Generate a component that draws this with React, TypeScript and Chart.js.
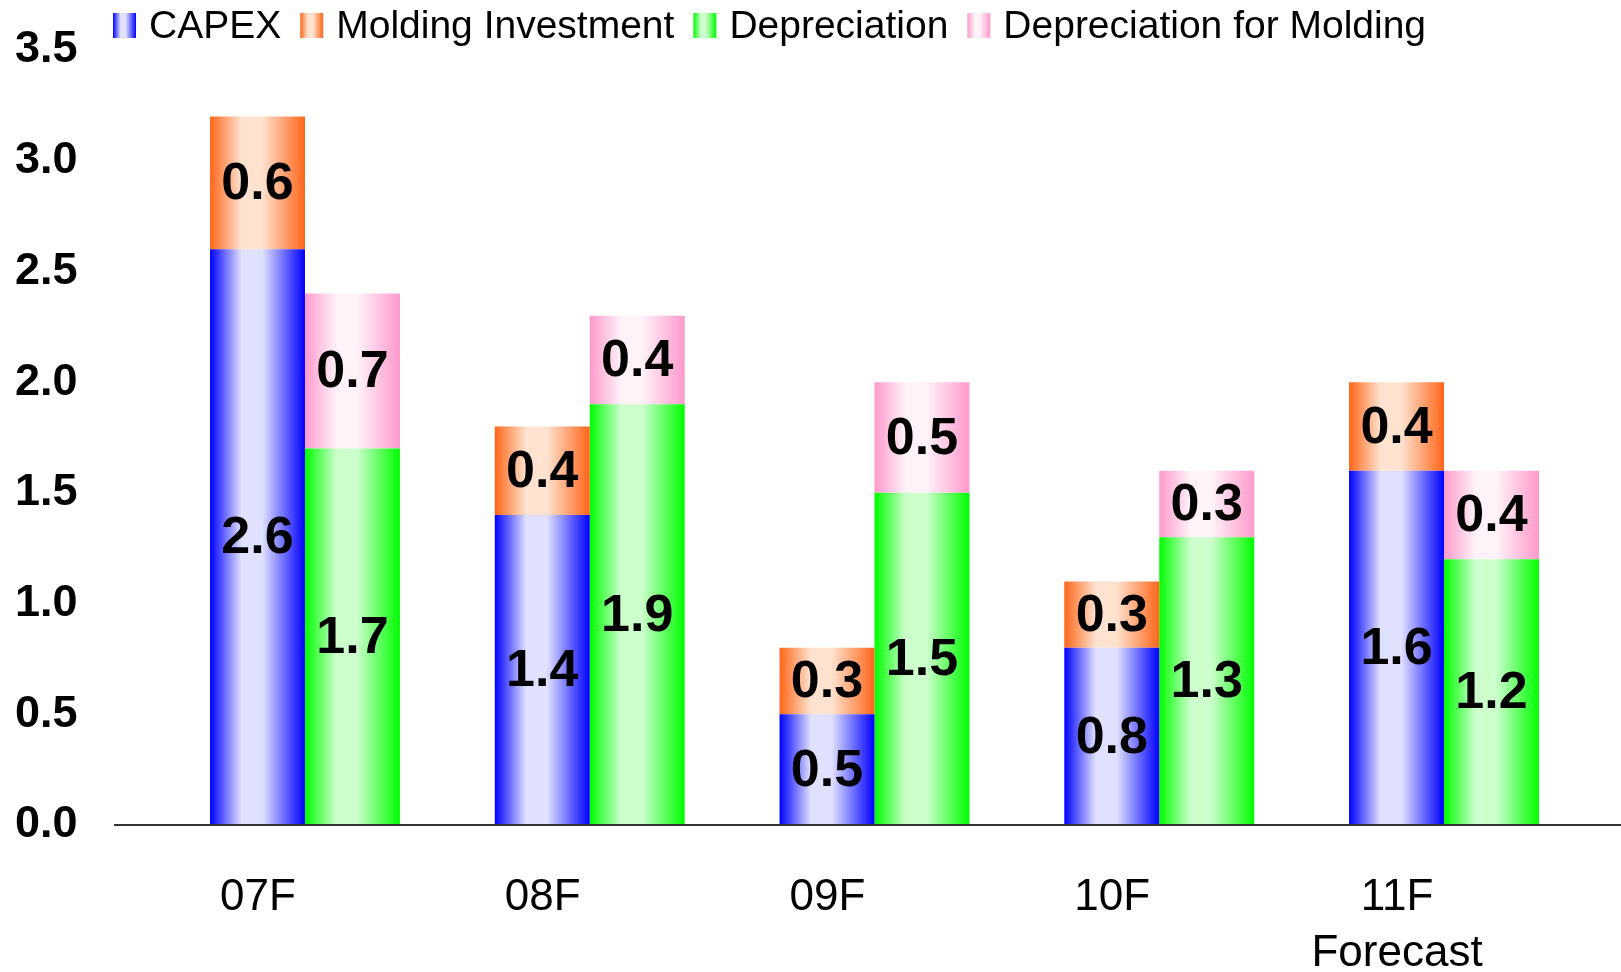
import React, { useEffect, useRef } from "react";
import { Chart, registerables } from "chart.js";

Chart.register(...registerables);

const categories: (string | string[])[] = ["07F", "08F", "09F", "10F", ["11F", "Forecast"]];
const capex = [2.6, 1.4, 0.5, 0.8, 1.6];
const moldingInvestment = [0.6, 0.4, 0.3, 0.3, 0.4];
const depreciation = [1.7, 1.9, 1.5, 1.3, 1.2];
const depreciationMolding = [0.7, 0.4, 0.5, 0.3, 0.4];
const seriesNames = ["CAPEX", "Molding Investment", "Depreciation", "Depreciation for Molding"];
const yMin = 0;
const yMax = 3.5;
const yStep = 0.5;

const CP = 0.667;
const FONT = "'Liberation Sans', Arial, sans-serif";

const palette = [
  { edge: "#0000FF", light: "#E0E0FF" },
  { edge: "#FF6619", light: "#FFE2CF" },
  { edge: "#00FF00", light: "#CCFFCC" },
  { edge: "#FF99CC", light: "#FFF2F8" },
];

function addStops(g: CanvasGradient, edge: string, light: string) {
  g.addColorStop(0, edge);
  g.addColorStop(0.33, light);
  g.addColorStop(0.55, light);
  g.addColorStop(1, edge);
  return g;
}

function gradFill(idx: number, stackIdx: number) {
  const { edge, light } = palette[idx];
  return (c: any) => {
    const chart = c.chart;
    const x = chart.scales && chart.scales.x;
    if (!x || !x.width || c.dataIndex == null) return edge;
    const W = x.width / categories.length;
    const center = x.getPixelForValue(c.dataIndex);
    const bw = (W * CP) / 2;
    const left = center - (W * CP) / 2 + stackIdx * bw;
    const g = chart.ctx.createLinearGradient(left, 0, left + bw, 0);
    return addStops(g, edge, light);
  };
}

const legendPlugin = {
  id: "customLegend",
  afterDraw(chart: any) {
    const ctx = chart.ctx;
    ctx.save();
    ctx.font = `39px ${FONT}`;
    ctx.textBaseline = "alphabetic";
    ctx.textAlign = "left";
    let x = 113;
    const boxW = 23;
    const boxTop = 13;
    const boxH = 25;
    seriesNames.forEach((name, i) => {
      const g = ctx.createLinearGradient(x, 0, x + boxW, 0);
      addStops(g, palette[i].edge, palette[i].light);
      ctx.fillStyle = g;
      ctx.fillRect(x, boxTop, boxW, boxH);
      x += boxW + 13;
      ctx.fillStyle = "#000";
      ctx.fillText(name, x, 38);
      x += ctx.measureText(name).width + 19;
    });
    ctx.restore();
  },
};

const axisLinePlugin = {
  id: "axisLine",
  afterDatasetsDraw(chart: any) {
    const ctx = chart.ctx;
    const y = chart.scales.y.getPixelForValue(0);
    ctx.save();
    ctx.strokeStyle = "#333";
    ctx.lineWidth = 2;
    ctx.beginPath();
    ctx.moveTo(114, y);
    ctx.lineTo(chart.width, y);
    ctx.stroke();
    ctx.restore();
  },
};

const valueLabelPlugin = {
  id: "valueLabels",
  afterDatasetsDraw(chart: any) {
    const ctx = chart.ctx;
    ctx.save();
    ctx.font = `bold 52px ${FONT}`;
    ctx.fillStyle = "#000";
    ctx.textAlign = "center";
    ctx.textBaseline = "middle";
    chart.data.datasets.forEach((ds: any, di: number) => {
      const meta = chart.getDatasetMeta(di);
      meta.data.forEach((el: any, i: number) => {
        const v = ds.data[i];
        const yc = (el.y + el.base) / 2;
        ctx.fillText(v.toFixed(1), el.x, yc + 2);
      });
    });
    ctx.restore();
  },
};

export default function App() {
  const ref = useRef<HTMLCanvasElement | null>(null);
  useEffect(() => {
    if (!ref.current) return;
    Chart.defaults.font.family = FONT;
    const chart = new Chart(ref.current, {
      type: "bar",
      data: {
        labels: categories,
        datasets: [
          { label: seriesNames[0], data: capex, stack: "capex", backgroundColor: gradFill(0, 0) },
          { label: seriesNames[1], data: moldingInvestment, stack: "capex", backgroundColor: gradFill(1, 0) },
          { label: seriesNames[2], data: depreciation, stack: "dep", backgroundColor: gradFill(2, 1) },
          { label: seriesNames[3], data: depreciationMolding, stack: "dep", backgroundColor: gradFill(3, 1) },
        ],
      },
      options: {
        responsive: false,
        animation: false,
        devicePixelRatio: 1,
        layout: { padding: { top: 0, right: 34.6, left: 0, bottom: 0 } },
        plugins: { legend: { display: false }, tooltip: { enabled: false } },
        datasets: { bar: { barPercentage: 1, categoryPercentage: CP, borderWidth: 0 } },
        scales: {
          x: {
            stacked: true,
            grid: { display: false, drawTicks: false },
            border: { display: false },
            afterFit: (s: any) => {
              s.height = 147;
            },
            ticks: {
              color: "#000",
              font: { size: 44, lineHeight: 1.27 },
              padding: 45,
              labelOffset: -47,
              maxRotation: 0,
              autoSkip: false,
            },
          },
          y: {
            stacked: true,
            min: yMin,
            max: yMax,
            grid: { display: false, drawTicks: false },
            border: { display: false },
            afterFit: (s: any) => {
              s.width = 162.6;
              s.paddingTop = 50;
              s.paddingBottom = 0;
            },
            ticks: {
              stepSize: yStep,
              color: "#000",
              font: { size: 45, weight: "bold" },
              padding: 85,
              callback: (v: any) => Number(v).toFixed(1),
            },
          },
        },
      },
      plugins: [axisLinePlugin, valueLabelPlugin, legendPlugin],
    });
    return () => chart.destroy();
  }, []);
  return (
    <div style={{ position: "absolute", left: 0, top: 0, width: 1621, height: 972, background: "#fff" }}>
      <canvas ref={ref} width={1621} height={972} style={{ width: 1621, height: 972, display: "block" }} />
    </div>
  );
}
